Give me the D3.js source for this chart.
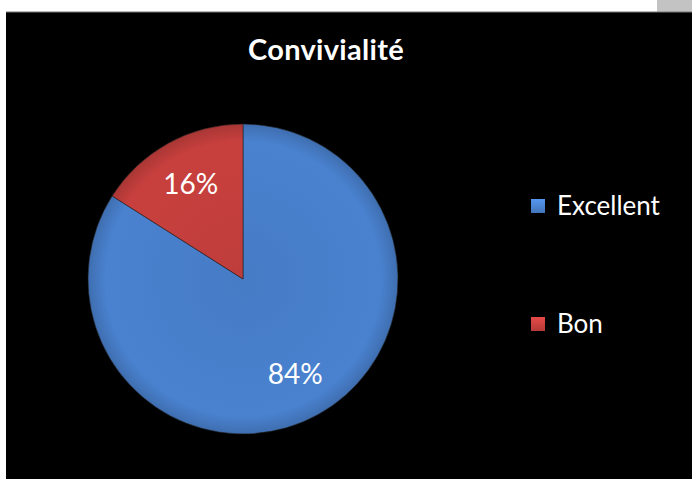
<!DOCTYPE html>
<html>
<head>
<meta charset="utf-8">
<script src="https://cdn.jsdelivr.net/npm/d3@7"></script>
<style>
  body { margin: 0; background: #fff; }
  svg { display: block; }
</style>
</head>
<body>
<div id="chart"></div>
<script>
// données
const categories = ["Excellent", "Bon"]
const values = [84, 16]
const labels = ["84%", "16%"]
const colors = ["#4a82d0", "#c8403e"]

const width = 692
const height = 479

const svg = d3.select('#chart')
    .append('svg')
    .attr('width', width)
    .attr('height', height)

// fond
svg.append('rect').attr('width', width).attr('height', height).style('fill', '#fff')
svg.append('rect').attr('x', 657).attr('y', 0).attr('width', 35).attr('height', 12).style('fill', '#c3c3c3')
svg.append('rect').attr('x', 6).attr('y', 12).attr('width', width - 6).attr('height', height - 12).style('fill', '#000')
svg.append('line').attr('x1', 6).attr('x2', width).attr('y1', 12).attr('y2', 12)
    .style('stroke', '#777').style('stroke-width', 1)

const defs = svg.append('defs')
colors.forEach((c, i) => {
    const grad = defs.append('radialGradient')
        .attr('id', 'grad' + i)
        .attr('gradientUnits', 'userSpaceOnUse')
        .attr('cx', 0).attr('cy', 0).attr('r', 156)
    grad.append('stop').attr('offset', '0%').attr('stop-color', d3.color(c).darker(0.15))
    grad.append('stop').attr('offset', '88%').attr('stop-color', c)
    grad.append('stop').attr('offset', '100%').attr('stop-color', d3.color(c).darker(0.5))

    const lg = defs.append('linearGradient')
        .attr('id', 'lg' + i)
        .attr('x1', 0).attr('y1', 0).attr('x2', 0).attr('y2', 1)
    lg.append('stop').attr('offset', '0%').attr('stop-color', d3.color(c).brighter(0.4))
    lg.append('stop').attr('offset', '100%').attr('stop-color', d3.color(c).darker(0.3))
})

const font = 'Lato, "Open Sans", sans-serif'

// titre
svg.append('text')
    .attr('x', 326)
    .attr('y', 60)
    .attr('text-anchor', 'middle')
    .style('font-family', font)
    .style('font-weight', 'bold')
    .style('font-size', '29px')
    .style('letter-spacing', '0.3px')
    .style('fill', '#fff')
    .text('Convivialité')

const cx = 243, cy = 279, radius = 155

const pie = d3.pie().sort(null).value(d => d)
const arcs = pie(values)
const arc = d3.arc().innerRadius(0).outerRadius(radius)
const labelArc = d3.arc().innerRadius(radius * 0.7).outerRadius(radius * 0.7)

const g = svg.append('g').attr('transform', `translate(${cx},${cy})`)

g.selectAll('.slice')
    .data(arcs)
    .enter()
    .append('path')
    .attr('class', 'slice')
    .attr('d', arc)
    .style('fill', (d, i) => `url(#grad${i})`)
    .style('stroke', '#222')
    .style('stroke-width', 0.6)

g.selectAll('.lbl')
    .data(arcs)
    .enter()
    .append('text')
    .attr('class', 'lbl')
    .attr('transform', (d, i) => {
        const p = labelArc.centroid(d)
        return `translate(${p[0]},${p[1]})`
    })
    .attr('text-anchor', 'middle')
    .attr('dy', '0.36em')
    .style('font-family', font)
    .style('font-size', '28px')
    .style('fill', '#fff')
    .text((d, i) => labels[i])

// légende
const legendY = d3.scalePoint().domain(categories).range([206, 324])

const legend = svg.selectAll('.leg')
    .data(categories)
    .enter()
    .append('g')
    .attr('class', 'leg')
    .attr('transform', d => `translate(531,${legendY(d)})`)

legend.append('rect')
    .attr('x', 0).attr('y', -7)
    .attr('width', 14).attr('height', 14)
    .style('fill', (d, i) => `url(#lg${i})`)

legend.append('text')
    .attr('x', 26)
    .attr('y', 0)
    .attr('dy', '0.36em')
    .style('font-family', font)
    .style('font-size', '26px')
    .style('fill', '#fff')
    .text(d => d)
</script>
</body>
</html>
